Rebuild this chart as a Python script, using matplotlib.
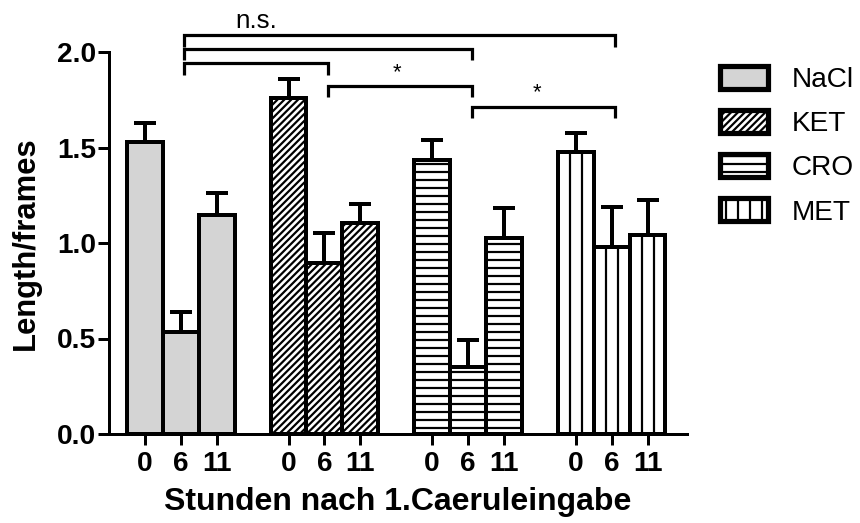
import matplotlib
matplotlib.use("Agg")
import matplotlib.pyplot as plt
import numpy as np

# figure is laid out at 144 dpi so the hatch spacing comes out right
DPI = 144
W, H = 860, 523

plt.rcParams["font.family"] = ["Liberation Sans", "DejaVu Sans"]
plt.rcParams["hatch.linewidth"] = 1.1
plt.rcParams["hatch.color"] = "black"

# data: mean and SEM per treatment at 0, 6 and 11 h
groups = ["NaCl", "KET", "CRO", "MET"]
hours = ["0", "6", "11"]
nacl_mean = [1.53, 0.535, 1.147]
nacl_sem = [0.097, 0.105, 0.113]
ket_mean = [1.761, 0.894, 1.106]
ket_sem = [0.096, 0.16, 0.098]
cro_mean = [1.435, 0.35, 1.025]
cro_sem = [0.105, 0.14, 0.157]
met_mean = [1.478, 0.98, 1.042]
met_sem = [0.096, 0.21, 0.183]

group_means = [nacl_mean, ket_mean, cro_mean, met_mean]
group_sems = [nacl_sem, ket_sem, cro_sem, met_sem]
fills = ["#d4d4d4", "white", "white", "white"]
hatches = [None, "///////", "---", "||"]

# significance brackets between the 6 h bars: (from group, to group, level)
bracket_pairs = [(0, 3), (0, 2), (0, 1), (1, 2), (2, 3)]
bracket_levels = [2.087, 2.016, 1.941, 1.822, 1.712]
sig_labels = [("n.s.", 3.09, 2.125, 13), ("*", 7.02, 1.865, 11), ("*", 10.92, 1.757, 11)]

fig = plt.figure(figsize=(W / DPI, H / DPI), dpi=DPI)
ax = fig.add_axes([109 / W, 89 / H, 578 / W, 382 / H])

positions = []
for g in range(len(groups)):
    x = np.arange(3) + 4 * g
    positions.append(x)
    ax.bar(x, group_means[g], width=1.0, color=fills[g], edgecolor="black",
           linewidth=2.0, hatch=hatches[g], label=groups[g], zorder=2)
    ax.errorbar(x, group_means[g], yerr=[np.zeros(3), group_sems[g]], fmt="none",
                ecolor="black", elinewidth=2.0, capsize=5.5, capthick=2.0, zorder=1)

# brackets
tip = 0.06
for (a, b), lev in zip(bracket_pairs, bracket_levels):
    x0 = positions[a][1] + 0.1
    x1 = positions[b][1] + 0.1
    ax.plot([x0, x0, x1, x1], [lev - tip, lev, lev, lev - tip], color="black",
            lw=1.6, clip_on=False, solid_joinstyle="miter", solid_capstyle="butt")
for txt, x, y, fs in sig_labels:
    ax.text(x, y, txt, ha="center", va="baseline", fontsize=fs)

all_pos = np.concatenate(positions)
ax.set_xticks(all_pos)
ax.set_xticklabels(hours * len(groups), fontweight="bold")
ax.set_xlim(-1.0, 15.1)
ax.set_ylim(0, 2.0)
ax.set_yticks([0, 0.5, 1.0, 1.5, 2.0])
ax.set_yticklabels(["%.1f" % v for v in [0, 0.5, 1.0, 1.5, 2.0]], fontweight="bold")
ax.tick_params(direction="out", length=5.5, width=1.5, labelsize=14)
ax.tick_params(axis="x", pad=3)
ax.tick_params(axis="y", pad=1)
for side in ["top", "right"]:
    ax.spines[side].set_visible(False)
for side in ["left", "bottom"]:
    ax.spines[side].set_linewidth(1.5)

ax.set_ylabel("Length/frames", fontsize=15.5, fontweight="bold", labelpad=8)
ax.set_xlabel("Stunden nach 1.Caeruleingabe", fontsize=16, fontweight="bold", labelpad=5)

leg = ax.legend(loc="upper left", bbox_to_anchor=(720 / W, 1 - 66 / H),
                bbox_transform=fig.transFigure, frameon=False, fontsize=14,
                handlelength=1.7, handleheight=0.9, handletextpad=0.85,
                labelspacing=0.6, borderpad=0, borderaxespad=0)
for p in leg.get_patches():
    p.set_linewidth(2.6)

fig.savefig("out.png", dpi=DPI)
